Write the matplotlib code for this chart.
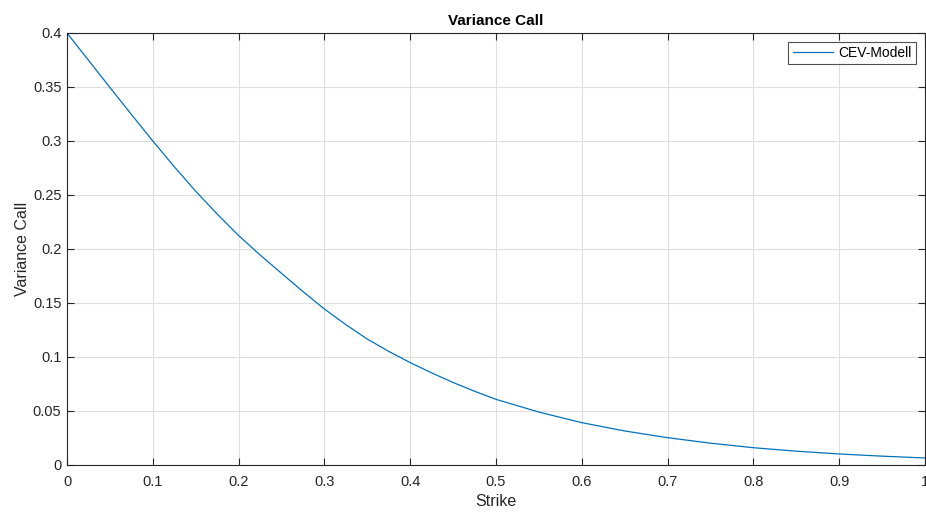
import matplotlib.pyplot as plt

# Strike values and variance of call
strike = [0.0, 0.025, 0.05, 0.075, 0.1, 0.125, 0.15, 0.175, 0.2, 0.225,
          0.25, 0.275, 0.3, 0.325, 0.35, 0.375, 0.4, 0.425, 0.45, 0.475,
          0.5, 0.55, 0.6, 0.65, 0.7, 0.75, 0.8, 0.85, 0.9, 0.95, 1.0]
variance_call = [0.400, 0.3748, 0.3496, 0.3246, 0.300, 0.2762, 0.2535, 0.2324,
                 0.2125, 0.1945, 0.1775, 0.1606, 0.1444, 0.1300, 0.1166,
                 0.1052, 0.0948, 0.0853, 0.0764, 0.0683, 0.0608, 0.0490,
                 0.0392, 0.0315, 0.0253, 0.0202, 0.0160, 0.0128, 0.0102,
                 0.0082, 0.0065]

x_ticks = [0, 0.1, 0.2, 0.3, 0.4, 0.5, 0.6, 0.7, 0.8, 0.9, 1]
x_tick_labels = ["0", "0.1", "0.2", "0.3", "0.4", "0.5", "0.6", "0.7", "0.8", "0.9", "1"]
y_ticks = [0, 0.05, 0.1, 0.15, 0.2, 0.25, 0.3, 0.35, 0.4]
y_tick_labels = ["0", "0.05", "0.1", "0.15", "0.2", "0.25", "0.3", "0.35", "0.4"]

plt.rcParams['font.family'] = ['Liberation Sans', 'DejaVu Sans']

fig = plt.figure(figsize=(9.26, 5.12), dpi=100)
ax = fig.add_axes([67 / 926, 47 / 512, 858 / 926, 432 / 512])

ax.plot(strike, variance_call, color="#0072BD", linewidth=0.9, label="CEV-Modell")

ax.set_xlim(0, 1)
ax.set_ylim(0, 0.4)
ax.set_xticks(x_ticks)
ax.set_xticklabels(x_tick_labels)
ax.set_yticks(y_ticks)
ax.set_yticklabels(y_tick_labels)

ax.grid(True, color="#dfdfdf", linewidth=0.8)
ax.set_axisbelow(True)

ax.tick_params(direction="in", length=5, width=0.8, colors="#262626",
               labelsize=10.5, top=True, right=True)
ax.tick_params(axis="x", pad=7)
ax.tick_params(axis="y", pad=4)
for s in ax.spines.values():
    s.set_color("#262626")
    s.set_linewidth(0.8)

ax.set_title("Variance Call", fontsize=11, fontweight="bold", color="black", pad=6)
ax.set_xlabel("Strike", fontsize=11.5, color="#262626", labelpad=4)
ax.set_ylabel("Variance Call", fontsize=11.5, color="#262626", labelpad=2)

leg = ax.legend(loc="upper right", fontsize=10, frameon=True, fancybox=False,
                edgecolor="#262626", handlelength=2.9, handletextpad=0.4,
                borderpad=0.3, borderaxespad=0.65)
leg.get_frame().set_linewidth(0.8)

plt.savefig("out.png", dpi=100)
plt.close()
